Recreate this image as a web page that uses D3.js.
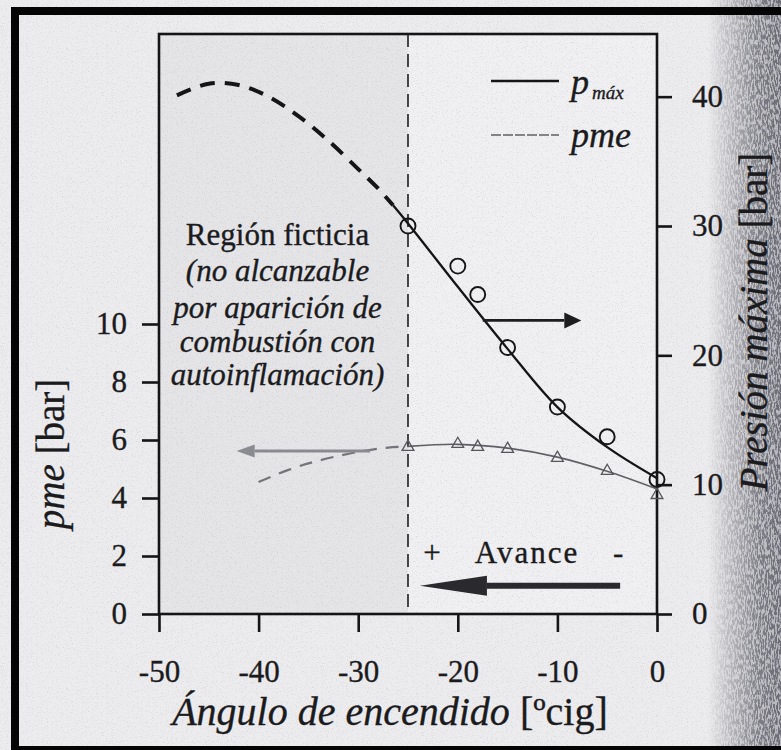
<!DOCTYPE html>
<html>
<head>
<meta charset="utf-8">
<script src="https://cdn.jsdelivr.net/npm/d3@7"></script>
<style>
  html, body { margin: 0; padding: 0; background: #ececee; }
  svg { display: block; }
  text { font-family: "Liberation Serif", "Times New Roman", serif; fill: #1b1b1d; stroke: #1b1b1d; stroke-width: 0.35px; }
</style>
</head>
<body>
<svg id="chart" width="781" height="750"></svg>
<script>
// Ignition advance sweep: measured points and fitted curves
const angleTicks = [-50, -40, -30, -20, -10, 0];
const pmeTicks = [0, 2, 4, 6, 8, 10];
const pmaxTicks = [0, 10, 20, 30, 40];

const measuredAngle = [-25, -20, -18, -15, -10, -5, 0];
const pmaxMeasured = [30.0, 26.9, 24.7, 20.6, 16.0, 13.7, 10.4];
const pmeMeasured = [5.76, 5.86, 5.76, 5.69, 5.38, 4.93, 4.10];

const pmaxFitAngle = [-26.5, -25, -20, -15, -10, -5, 0];
const pmaxFit = [31.6, 30.2, 25.3, 20.5, 16.0, 12.9, 10.5];

const pmaxExtrapAngle = [-48.2, -45, -42, -39, -36, -33, -30, -28, -26.5];
const pmaxExtrap = [40.1, 41.0, 40.9, 40.0, 38.5, 36.6, 34.4, 32.9, 31.6];

const pmeFitAngle = [-25, -20, -15, -10, -5, 0];
const pmeFit = [5.78, 5.85, 5.72, 5.41, 4.92, 4.31];

const pmeExtrapAngle = [-40, -37, -34.5, -32, -29.5, -27, -25];
const pmeExtrap = [4.55, 4.97, 5.24, 5.45, 5.62, 5.74, 5.78];

const knockLimitAngle = -25;

const regionLines = [
  { text: "Región ficticia", italic: false },
  { text: "(no alcanzable", italic: true },
  { text: "por aparición de", italic: true },
  { text: "combustión con", italic: true },
  { text: "autoinflamación)", italic: true }
];

const svg = d3.select("#chart");
const W = 781, H = 750;

const x = d3.scaleLinear().domain([-50, 0]).range([159, 657]);
const yL = d3.scaleLinear().domain([0, 20]).range([614, 34]);
const yR = d3.scaleLinear().domain([0, 45]).range([614, 32]);

const defs = svg.append("defs");

// paper grain
const grain = defs.append("filter").attr("id", "grain")
  .attr("x", 0).attr("y", 0).attr("width", "100%").attr("height", "100%");
grain.append("feTurbulence").attr("type", "fractalNoise")
  .attr("baseFrequency", 0.8).attr("numOctaves", 2).attr("seed", 7).attr("result", "n");
grain.append("feColorMatrix").attr("in", "n").attr("type", "matrix")
  .attr("values", "0 0 0 0 0.3  0 0 0 0 0.3  0 0 0 0 0.34  3.2 0 0 0 -1.75");

// scanner shadow along the right edge
const shadeGrad = defs.append("linearGradient").attr("id", "shadeGrad")
  .attr("x1", 0).attr("x2", 1).attr("y1", 0).attr("y2", 0);
shadeGrad.append("stop").attr("offset", 0).attr("stop-color", "#fff").attr("stop-opacity", 0);
shadeGrad.append("stop").attr("offset", 0.35).attr("stop-color", "#fff").attr("stop-opacity", 0.45);
shadeGrad.append("stop").attr("offset", 0.7).attr("stop-color", "#fff").attr("stop-opacity", 0.85);
shadeGrad.append("stop").attr("offset", 1).attr("stop-color", "#fff").attr("stop-opacity", 1);
const shadeMask = defs.append("mask").attr("id", "shadeMask");
shadeMask.append("rect").attr("x", 708).attr("y", 0).attr("width", 73).attr("height", H)
  .attr("fill", "url(#shadeGrad)");

const shadeNoise = defs.append("filter").attr("id", "shadeNoise")
  .attr("x", 0).attr("y", 0).attr("width", "100%").attr("height", "100%");
shadeNoise.append("feTurbulence").attr("type", "fractalNoise")
  .attr("baseFrequency", "0.7 0.2").attr("numOctaves", 3).attr("seed", 3).attr("result", "n");
shadeNoise.append("feColorMatrix").attr("in", "n").attr("type", "matrix")
  .attr("values", "0 0 0 0 0.14  0 0 0 0 0.14  0 0 0 0 0.17  5.5 0 0 0 -2.2");

// background paper
svg.append("rect").attr("width", W).attr("height", H).attr("fill", "#ececee");
// print area: slightly greyer left of the knock limit
svg.append("rect")
  .attr("x", x(-50)).attr("y", yL(20))
  .attr("width", x(knockLimitAngle) - x(-50)).attr("height", yL(0) - yL(20))
  .attr("fill", "#e5e5e8");
svg.append("rect")
  .attr("x", x(knockLimitAngle)).attr("y", yL(20))
  .attr("width", x(0) - x(knockLimitAngle)).attr("height", yL(0) - yL(20))
  .attr("fill", "#f0f0f2");
svg.append("rect").attr("width", W).attr("height", H)
  .attr("filter", "url(#grain)").attr("opacity", 0.25);

// right-edge shadow
const shade = svg.append("g").attr("mask", "url(#shadeMask)");
shade.append("rect").attr("x", 708).attr("y", 0).attr("width", 73).attr("height", H)
  .attr("fill", "#96969e").attr("opacity", 0.6);
shade.append("rect").attr("x", 708).attr("y", 0).attr("width", 73).attr("height", H)
  .attr("filter", "url(#shadeNoise)");

// frame box of the plot
svg.append("rect")
  .attr("x", x(-50)).attr("y", yL(20))
  .attr("width", x(0) - x(-50)).attr("height", yL(0) - yL(20))
  .attr("fill", "none").attr("stroke", "#151517").attr("stroke-width", 2.6);

// axes
const tickFmt = d => String(d);
const styleAxis = (g) => {
  g.select(".domain").remove();
  g.selectAll(".tick line").attr("stroke", "#151517").attr("stroke-width", 2.6);
  g.selectAll(".tick text").attr("font-size", 31).attr("fill", "#1b1b1d")
    .attr("font-family", "'Liberation Serif', 'Times New Roman', serif");
};

svg.append("g").attr("transform", `translate(${x(-50)},0)`)
  .call(d3.axisLeft(yL).tickValues(pmeTicks).tickFormat(tickFmt).tickSize(17).tickPadding(15))
  .call(styleAxis);

svg.append("g").attr("transform", `translate(${x(0)},0)`)
  .call(d3.axisRight(yR).tickValues(pmaxTicks).tickFormat(tickFmt).tickSize(15).tickPadding(20))
  .call(styleAxis);

svg.append("g").attr("transform", `translate(0,${yL(0)})`)
  .call(d3.axisBottom(x).tickValues(angleTicks).tickFormat(tickFmt).tickSize(18).tickPadding(28))
  .call(styleAxis);

// knock limit
svg.append("line")
  .attr("x1", x(knockLimitAngle)).attr("x2", x(knockLimitAngle))
  .attr("y1", yL(20)).attr("y2", yL(0))
  .attr("stroke", "#1d1d20").attr("stroke-width", 1.6).attr("stroke-dasharray", "13,7");

// curves
const lineR = d3.line().x(d => x(d[0])).y(d => yR(d[1])).curve(d3.curveCatmullRom.alpha(0.5));
const lineL = d3.line().x(d => x(d[0])).y(d => yL(d[1])).curve(d3.curveCatmullRom.alpha(0.5));

svg.append("path")
  .datum(d3.zip(pmaxExtrapAngle, pmaxExtrap))
  .attr("d", lineR).attr("fill", "none")
  .attr("stroke", "#151517").attr("stroke-width", 4).attr("stroke-dasharray", "15,10");

svg.append("path")
  .datum(d3.zip(pmaxFitAngle, pmaxFit))
  .attr("d", lineR).attr("fill", "none")
  .attr("stroke", "#151517").attr("stroke-width", 2.3);

svg.append("path")
  .datum(d3.zip(pmeExtrapAngle, pmeExtrap))
  .attr("d", lineL).attr("fill", "none")
  .attr("stroke", "#74747a").attr("stroke-width", 2.2).attr("stroke-dasharray", "13,9");

svg.append("path")
  .datum(d3.zip(pmeFitAngle, pmeFit))
  .attr("d", lineL).attr("fill", "none")
  .attr("stroke", "#5f5f65").attr("stroke-width", 1.6);

// measured points
svg.append("g").selectAll("circle")
  .data(d3.zip(measuredAngle, pmaxMeasured))
  .join("circle")
  .attr("cx", d => x(d[0])).attr("cy", d => yR(d[1])).attr("r", 7.5)
  .attr("fill", "none").attr("stroke", "#151517").attr("stroke-width", 1.9);

const tri = d3.symbol().type(d3.symbolTriangle).size(60);
svg.append("g").selectAll("path")
  .data(d3.zip(measuredAngle, pmeMeasured))
  .join("path")
  .attr("d", tri)
  .attr("transform", d => `translate(${x(d[0])},${yL(d[1])})`)
  .attr("fill", "none").attr("stroke", "#55555b").attr("stroke-width", 1.3);

// arrows
function arrow(x1, y1, x2, y2, color, width, headLen, headHalf) {
  const ang = Math.atan2(y2 - y1, x2 - x1);
  const bx = x2 - headLen * Math.cos(ang), by = y2 - headLen * Math.sin(ang);
  svg.append("line").attr("x1", x1).attr("y1", y1).attr("x2", bx).attr("y2", by)
    .attr("stroke", color).attr("stroke-width", width);
  const px = -Math.sin(ang) * headHalf, py = Math.cos(ang) * headHalf;
  svg.append("path")
    .attr("d", `M${x2},${y2}L${bx + px},${by + py}L${bx - px},${by - py}Z`)
    .attr("fill", color);
}
// p_max read on right axis
arrow(x(-17.5), yR(22.7), x(-7.6), yR(22.7), "#1d1d20", 2.6, 17, 8);
// pme read on left axis
arrow(x(-28.8), yL(5.62), x(-42.2), yL(5.62), "#8a8a91", 3, 18, 6.5);
// advance direction
arrow(x(-3.7), yL(0.97), x(-23.8), yL(0.97), "#2a2a2e", 6, 67, 10);

svg.append("text").attr("x", x(-22.6)).attr("y", yL(1.76))
  .attr("text-anchor", "middle").attr("font-size", 31).text("+");
svg.append("text").attr("x", x(-13.05)).attr("y", yL(1.76))
  .attr("text-anchor", "middle").attr("font-size", 31).attr("letter-spacing", 2).text("Avance");
svg.append("text").attr("x", x(-3.9)).attr("y", yL(1.76))
  .attr("text-anchor", "middle").attr("font-size", 31).text("-");

// fictitious region note
const noteBase = [245, 281, 318, 352, 385];
svg.append("g").selectAll("text")
  .data(regionLines)
  .join("text")
  .attr("x", x(-38.1))
  .attr("y", (d, i) => noteBase[i])
  .attr("text-anchor", "middle")
  .attr("font-size", 31)
  .attr("font-style", d => d.italic ? "italic" : "normal")
  .text(d => d.text);

// legend
svg.append("line").attr("x1", 491).attr("x2", 559).attr("y1", 81).attr("y2", 81)
  .attr("stroke", "#151517").attr("stroke-width", 2.3);
svg.append("line").attr("x1", 491).attr("x2", 559).attr("y1", 135).attr("y2", 135)
  .attr("stroke", "#5f5f65").attr("stroke-width", 1.5).attr("stroke-dasharray", "10,2");
const lg1 = svg.append("text").attr("x", 571).attr("y", 94).attr("font-size", 36).attr("font-style", "italic");
lg1.append("tspan").text("p");
lg1.append("tspan").attr("font-size", 19).attr("dy", 5).attr("dx", 3).text("máx");
svg.append("text").attr("x", 571).attr("y", 147).attr("font-size", 36).attr("font-style", "italic").text("pme");

// axis titles
const tx = svg.append("text").attr("x", 390).attr("y", 725)
  .attr("text-anchor", "middle").attr("font-size", 40);
tx.append("tspan").attr("font-style", "italic").text("Ángulo de encendido");
tx.append("tspan").text(" [ºcig]");

const tl = svg.append("text").attr("transform", "translate(64,454) rotate(-90)")
  .attr("text-anchor", "middle").attr("font-size", 39);
tl.append("tspan").attr("font-style", "italic").text("pme");
tl.append("tspan").text(" [bar]");

const tr = svg.append("text").attr("transform", "translate(767,322) rotate(-90)")
  .attr("text-anchor", "middle").attr("font-size", 39);
tr.append("tspan").attr("font-style", "italic").text("Presión máxima");
tr.append("tspan").text(" [bar]");

// outer black frame
svg.append("rect").attr("x", 15).attr("y", 11).attr("width", 800).attr("height", 739)
  .attr("fill", "none").attr("stroke", "#050505").attr("stroke-width", 8);
</script>
</body>
</html>
